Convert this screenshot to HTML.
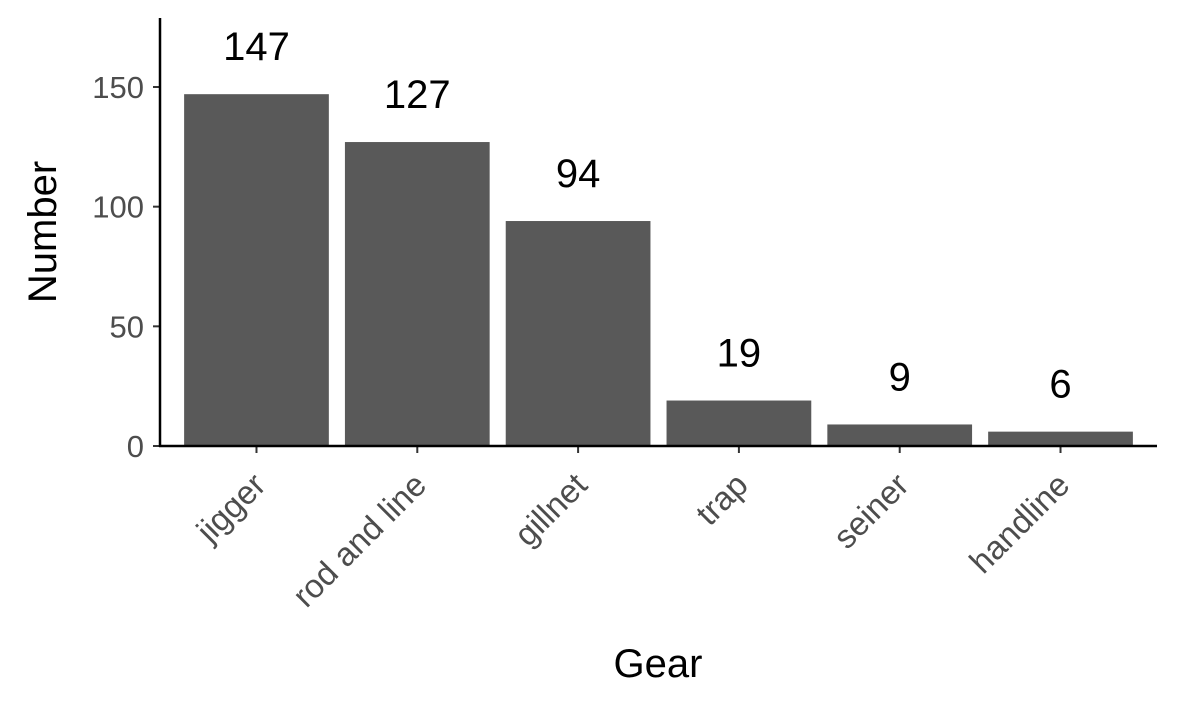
<!DOCTYPE html>
<html><head><meta charset="utf-8"><style>body{margin:0;background:#fff}svg{display:block;font-family:"Liberation Sans",Arial,sans-serif}</style></head>
<body>
<svg id="chart" width="1181" height="708" viewBox="0 0 1181 708"></svg>
<script>
const categories = ["jigger","rod and line","gillnet","trap","seiner","handline"];
const values = [147,127,94,19,9,6];
const yTicks = [0,50,100,150];
const NS="http://www.w3.org/2000/svg";
const svg=document.getElementById('chart');
const x0=160,x1=1157,y0=446,pxPerUnit=(446-87)/150;
const step=(x1-x0)/(categories.length+0.2);
const bw=step*0.9;
const y=v=>y0-v*pxPerUnit;
const xc=i=>x0+(i+0.6)*step;
function mk(tag,attrs,text){const e=document.createElementNS(NS,tag);for(const k in attrs)e.setAttribute(k,attrs[k]);if(text!==undefined)e.textContent=text;svg.appendChild(e);return e;}
values.forEach((v,i)=>{
  const r=mk('rect',{x:xc(i)-bw/2,y:y(v),width:bw,height:y0-y(v),fill:'#595959'});
  
  
  const t=mk('text',{x:xc(i),y:y(v)-34,'text-anchor':'middle','font-size':40,fill:'#000'},String(v));
  
  
  const tk=mk('line',{x1:xc(i),x2:xc(i),y1:y0,y2:y0+7,stroke:'#333','stroke-width':2});
  
  
  const lx=xc(i)+11,ly=y0+41;
  const lb=mk('text',{x:lx,y:ly,'text-anchor':'end','font-size':33,fill:'#4d4d4d',transform:`rotate(-45 ${lx} ${ly})`},categories[i]);
  
  
});
yTicks.forEach(v=>{
  const tk=mk('line',{x1:x0-7,x2:x0,y1:y(v),y2:y(v),stroke:'#333','stroke-width':2});
  
  
  const lb=mk('text',{x:x0-16,y:y(v)+11,'text-anchor':'end','font-size':31,fill:'#4d4d4d'},String(v));
  
  
});
const ya=mk('line',{x1:x0,x2:x0,y1:18,y2:y0+1,stroke:'#000','stroke-width':2.5});


const xa=mk('line',{x1:x0-1,x2:x1,y1:y0,y2:y0,stroke:'#000','stroke-width':2.5});


const xt=mk('text',{x:658,y:677,'text-anchor':'middle','font-size':40,fill:'#000'},'Gear');


const yt=mk('text',{x:56,y:232,'text-anchor':'middle','font-size':40,fill:'#000',transform:'rotate(-90 56 232)'},'Number');


</script>
</body></html>
